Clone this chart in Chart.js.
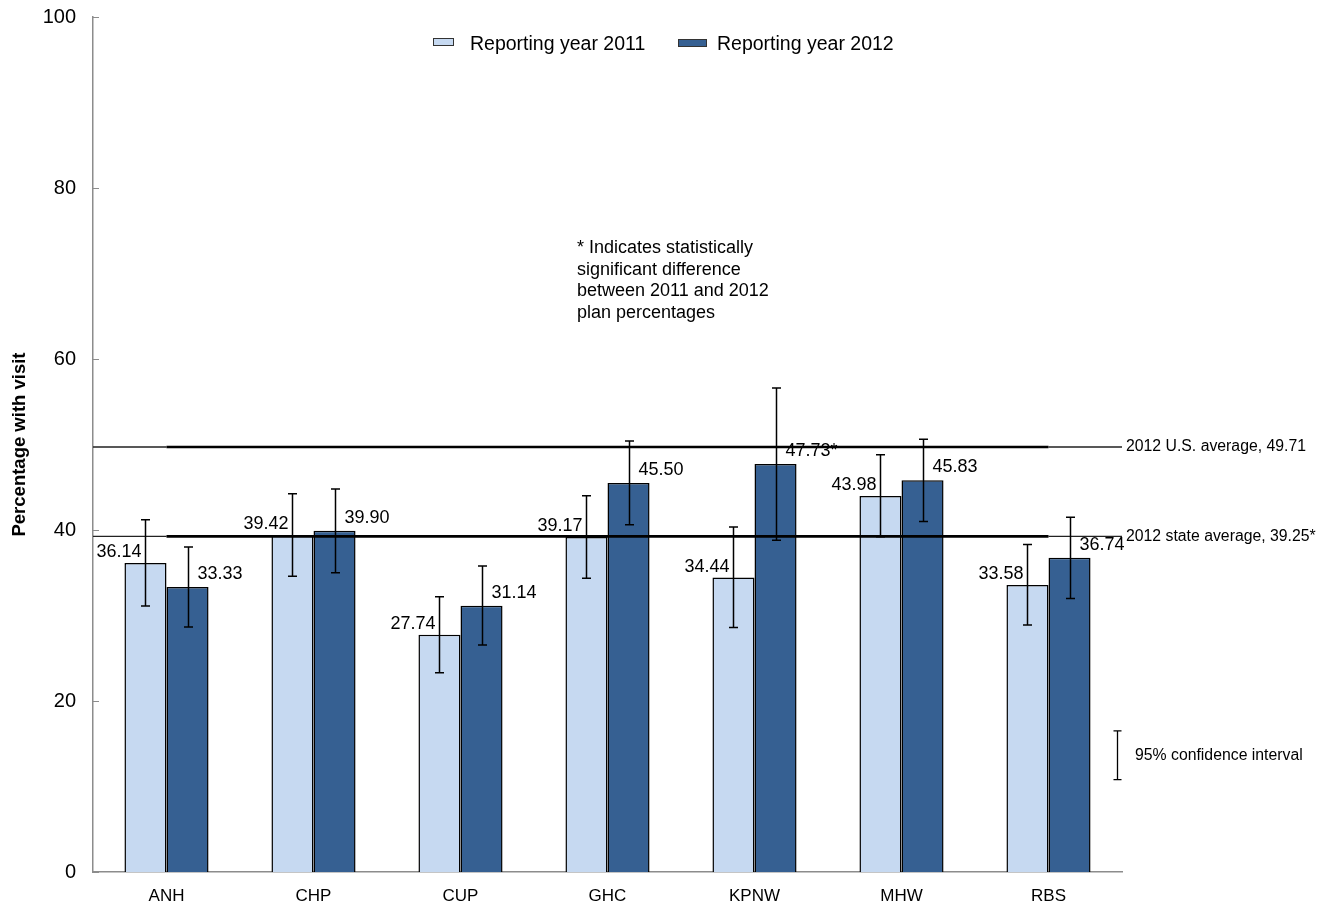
<!DOCTYPE html>
<html>
<head>
<meta charset="utf-8">
<script src="https://cdn.jsdelivr.net/npm/chart.js@4.4.1/dist/chart.umd.min.js"></script>
<style>
  html, body { margin: 0; padding: 0; background: #fff; }
  #wrap { width: 1331px; height: 907px; }
</style>
</head>
<body>
<div id="wrap"><canvas id="visitChart" width="1331" height="907"></canvas></div>
<script>
// plan data
const plans = ['ANH', 'CHP', 'CUP', 'GHC', 'KPNW', 'MHW', 'RBS'];
const year2011 = [36.14, 39.42, 27.74, 39.17, 34.44, 43.98, 33.58];
const year2012 = [33.33, 39.90, 31.14, 45.50, 47.73, 45.83, 36.74];
const labels2011 = ['36.14', '39.42', '27.74', '39.17', '34.44', '43.98', '33.58'];
const labels2012 = ['33.33', '39.90', '31.14', '45.50', '47.73*', '45.83', '36.74'];

// 95% confidence intervals
const low2011 = [31.1, 34.6, 23.3, 34.35, 28.6, 39.2, 28.9];
const high2011 = [41.2, 44.25, 32.2, 44.0, 40.35, 48.8, 38.3];
const low2012 = [28.65, 35.0, 26.55, 40.6, 38.8, 41.0, 32.0];
const high2012 = [38.0, 44.8, 35.8, 50.4, 56.6, 50.6, 41.5];

// reference averages
const usAverage = 49.71;
const stateAverage = 39.25;
const yTicks = [0, 20, 40, 60, 80, 100];

const light = '#c6d9f1';
const dark = '#366092';
const fontFamily = '"Liberation Sans", Arial, sans-serif';

// draws the error bars, average lines, labels and notes
const extras = {
	id: 'extras',
	afterDatasetsDraw(chart) {
		const ctx = chart.ctx;
		const area = chart.chartArea;
		const y = chart.scales.y;
		const x = chart.scales.x;
		const m0 = chart.getDatasetMeta(0);
		const m1 = chart.getDatasetMeta(1);

		ctx.save();

		// inward ticks on the y axis
		ctx.strokeStyle = '#8c8c8c';
		ctx.lineWidth = 1;
		yTicks.forEach(t => {
			const py = Math.round(y.getPixelForValue(t)) + 0.5;
			ctx.beginPath();
			ctx.moveTo(area.left, py);
			ctx.lineTo(area.left + 6, py);
			ctx.stroke();
		});

		// average lines
		const first = x.getPixelForValue(0);
		const last = x.getPixelForValue(plans.length - 1);
		[[usAverage, '2012 U.S. average, ' + usAverage.toFixed(2)],
		 [stateAverage, '2012 state average, ' + stateAverage.toFixed(2) + '*']].forEach(([v, txt]) => {
			const py = y.getPixelForValue(v);
			ctx.strokeStyle = '#222';
			ctx.lineWidth = 1.3;
			ctx.beginPath();
			ctx.moveTo(area.left, py);
			ctx.lineTo(first, py);
			ctx.moveTo(last, py);
			ctx.lineTo(area.right, py);
			ctx.stroke();
			ctx.strokeStyle = '#000';
			ctx.lineWidth = 2.6;
			ctx.beginPath();
			ctx.moveTo(first, py);
			ctx.lineTo(last, py);
			ctx.stroke();
			ctx.fillStyle = '#000';
			ctx.font = '15.8px ' + fontFamily;
			ctx.textAlign = 'left';
			ctx.textBaseline = 'middle';
			ctx.fillText(txt, area.right + 4, py);
		});

		// error bars
		ctx.strokeStyle = '#000';
		ctx.lineWidth = 1.5;
		const whisker = (px, lo, hi) => {
			const a = y.getPixelForValue(lo);
			const b = y.getPixelForValue(hi);
			ctx.beginPath();
			ctx.moveTo(px, a); ctx.lineTo(px, b);
			ctx.moveTo(px - 4.5, a); ctx.lineTo(px + 4.5, a);
			ctx.moveTo(px - 4.5, b); ctx.lineTo(px + 4.5, b);
			ctx.stroke();
		};
		m0.data.forEach((bar, i) => whisker(Math.round(bar.x) + 0.5, low2011[i], high2011[i]));
		m1.data.forEach((bar, i) => whisker(Math.round(bar.x) + 0.5, low2012[i], high2012[i]));

		// value labels
		ctx.fillStyle = '#000';
		ctx.font = '18px ' + fontFamily;
		ctx.textBaseline = 'alphabetic';
		ctx.textAlign = 'right';
		m0.data.forEach((bar, i) => ctx.fillText(labels2011[i], bar.x - 4, bar.y - 6));
		ctx.textAlign = 'left';
		m1.data.forEach((bar, i) => ctx.fillText(labels2012[i], bar.x + 10, bar.y - 8));

		// legend
		ctx.font = '19.5px ' + fontFamily;
		ctx.textBaseline = 'middle';
		ctx.lineWidth = 1;
		ctx.strokeStyle = '#333';
		const ly = 45;
		ctx.fillStyle = light;
		ctx.fillRect(433.5, 38.5, 20, 7);
		ctx.strokeRect(433.5, 38.5, 20, 7);
		ctx.fillStyle = '#000';
		ctx.fillText(chart.data.datasets[0].label, 470, ly);
		ctx.fillStyle = dark;
		ctx.fillRect(678.5, 39.5, 28, 7);
		ctx.strokeRect(678.5, 39.5, 28, 7);
		ctx.fillStyle = '#000';
		ctx.fillText(chart.data.datasets[1].label, 717, ly);

		// significance note
		ctx.font = '18px ' + fontFamily;
		ctx.textBaseline = 'middle';
		['* Indicates statistically', 'significant difference', 'between 2011 and 2012', 'plan percentages']
			.forEach((line, i) => ctx.fillText(line, 577, 248 + i * 21.7));

		// confidence interval key
		const kx = area.right - 4.5;
		const k1 = y.getPixelForValue(16.5);
		const k2 = y.getPixelForValue(10.8);
		ctx.lineWidth = 1.3;
		ctx.strokeStyle = '#000';
		ctx.beginPath();
		ctx.moveTo(kx, k1); ctx.lineTo(kx, k2);
		ctx.moveTo(kx - 4, k1); ctx.lineTo(kx + 4, k1);
		ctx.moveTo(kx - 4, k2); ctx.lineTo(kx + 4, k2);
		ctx.stroke();
		ctx.font = '15.8px ' + fontFamily;
		ctx.textAlign = 'left';
		ctx.fillText('95% confidence interval', area.right + 13, (k1 + k2) / 2);

		ctx.restore();
	}
};

const ctx = document.getElementById('visitChart').getContext('2d');
new Chart(ctx, {
	type: 'bar',
	data: {
		labels: plans,
		datasets: [{
			label: 'Reporting year 2011',
			data: year2011,
			backgroundColor: light,
			borderColor: '#000',
			borderWidth: 1.5,
			categoryPercentage: 0.572,
			barPercentage: 1
		}, {
			label: 'Reporting year 2012',
			data: year2012,
			backgroundColor: dark,
			borderColor: '#000',
			borderWidth: 1.5,
			categoryPercentage: 0.572,
			barPercentage: 1
		}]
	},
	options: {
		responsive: false,
		animation: false,
		layout: { padding: { top: 17, right: 209, left: 0, bottom: 0 } },
		plugins: {
			legend: { display: false },
			tooltip: { enabled: false }
		},
		scales: {
			x: {
				grid: { display: false, drawTicks: false },
				border: { color: '#8c8c8c', width: 1.5 },
				ticks: { color: '#000', font: { family: fontFamily, size: 17 }, padding: 14 },
				afterFit: s => {
					s.height = 35;
					s.paddingLeft = 0;
					s.paddingRight = 0;
				}
			},
			y: {
				min: 0,
				max: 100,
				grid: { display: false, drawTicks: false },
				border: { color: '#8c8c8c', width: 1.5 },
				ticks: {
					stepSize: 20,
					color: '#000',
					padding: 17,
					font: { family: fontFamily, size: 20 }
				},
				title: {
					display: true,
					text: 'Percentage with visit',
					color: '#000',
					font: { family: fontFamily, size: 18.5, weight: 'bold' },
					padding: { top: 9, bottom: 0 }
				},
				afterFit: s => {
					s.width = 93;
					s.paddingTop = 0;
					s.paddingBottom = 0;
				}
			}
		}
	},
	plugins: [extras]
});
</script>
</body>
</html>
